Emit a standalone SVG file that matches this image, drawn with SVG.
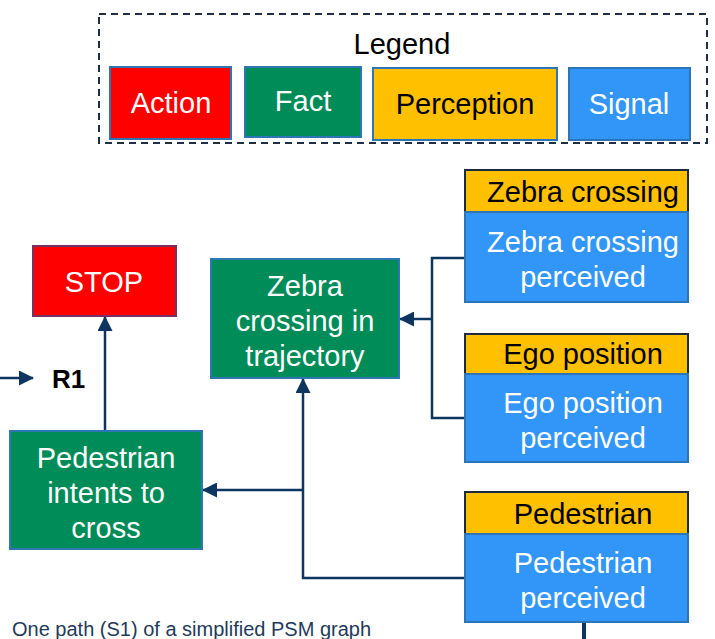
<svg xmlns="http://www.w3.org/2000/svg" width="715" height="639" viewBox="0 0 715 639">
  <style>
    text { font-family: "Liberation Sans", Arial, sans-serif; text-anchor: middle; }
    .lbl { font-size: 29px; fill: #ffffff; }
    .dark { font-size: 29px; fill: #000000; }
    .action { fill: #ff0000; stroke: #2e75b6; stroke-width: 2; }
    .fact { fill: #008c58; stroke: #2e75b6; stroke-width: 2; }
    .perc { fill: #ffc000; stroke: #1c2b40; stroke-width: 2; }
    .sig { fill: #3196f8; stroke: #2e75b6; stroke-width: 2; }
    .wire { fill: none; stroke: #0d3560; stroke-width: 2.5; }
  </style>
  <defs>
    <marker id="arrow" markerUnits="userSpaceOnUse" markerWidth="15" markerHeight="15" viewBox="0 0 15 15" refX="14" refY="7.5" orient="auto">
      <path d="M0,0 L15,7.5 L0,15 Z" fill="#0d3560"/>
    </marker>
  </defs>

  <!-- legend -->
  <g id="legend">
    <rect x="99" y="14" width="608" height="129" fill="none" stroke="#1f2f45" stroke-width="2" stroke-dasharray="7,5"/>
    <text x="402" y="54" class="dark">Legend</text>
    <rect x="110" y="67" width="121" height="72" class="action"/>
    <text x="171" y="113" class="lbl">Action</text>
    <rect x="245" y="67" width="116" height="70" class="fact"/>
    <text x="303" y="111" class="lbl">Fact</text>
    <rect x="373" y="68" width="184" height="72" class="perc" style="stroke:#2e75b6"/>
    <text x="465" y="114" class="dark">Perception</text>
    <rect x="569" y="68" width="121" height="72" class="sig"/>
    <text x="629" y="114" class="lbl">Signal</text>
  </g>

  <!-- connectors -->
  <g id="connectors">
    <line x1="0" y1="378" x2="33" y2="378" class="wire" marker-end="url(#arrow)"/>
    <line x1="105" y1="431" x2="105" y2="317" class="wire" marker-end="url(#arrow)"/>
    <path d="M465,258 H432 V418 H465" class="wire"/>
    <line x1="432" y1="319" x2="400" y2="319" class="wire" marker-end="url(#arrow)"/>
    <path d="M465,578 H303 V379" class="wire" marker-end="url(#arrow)"/>
    <line x1="303" y1="490" x2="203" y2="490" class="wire" marker-end="url(#arrow)"/>
    <line x1="584" y1="622" x2="584" y2="639" class="wire" style="stroke-width:4"/>
  </g>

  <text x="52" y="388" style="font-size:26px;font-weight:bold;text-anchor:start;fill:#000">R1</text>

  <g id="stop">
    <rect x="33" y="246" width="143" height="70" class="action" style="stroke:#7a3060"/>
    <text x="104" y="292" class="lbl">STOP</text>
  </g>

  <g id="zebra-in-trajectory">
    <rect x="211" y="259" width="188" height="119" class="fact"/>
    <text x="305" y="296" class="lbl">Zebra</text>
    <text x="305" y="331" class="lbl">crossing in</text>
    <text x="305" y="366" class="lbl">trajectory</text>
  </g>

  <g id="pedestrian-intents">
    <rect x="10" y="431" width="192" height="118" class="fact"/>
    <text x="106" y="468" class="lbl">Pedestrian</text>
    <text x="106" y="503" class="lbl">intents to</text>
    <text x="106" y="538" class="lbl">cross</text>
  </g>

  <g id="zebra-crossing">
    <rect x="465" y="170" width="223" height="42" class="perc"/>
    <text x="583" y="202" class="dark">Zebra crossing</text>
    <rect x="465" y="212" width="223" height="90" class="sig"/>
    <text x="583" y="252" class="lbl">Zebra crossing</text>
    <text x="583" y="287" class="lbl">perceived</text>
  </g>

  <g id="ego-position">
    <rect x="465" y="334" width="223" height="40" class="perc"/>
    <text x="583" y="364" class="dark">Ego position</text>
    <rect x="465" y="374" width="223" height="88" class="sig"/>
    <text x="583" y="413" class="lbl">Ego position</text>
    <text x="583" y="448" class="lbl">perceived</text>
  </g>

  <g id="pedestrian">
    <rect x="465" y="492" width="223" height="42" class="perc"/>
    <text x="583" y="524" class="dark">Pedestrian</text>
    <rect x="465" y="534" width="223" height="88" class="sig"/>
    <text x="583" y="573" class="lbl">Pedestrian</text>
    <text x="583" y="608" class="lbl">perceived</text>
  </g>

  <text x="12" y="636" style="font-size:20px;text-anchor:start;fill:#1f3a5a">One path (S1) of a simplified PSM graph</text>
</svg>
